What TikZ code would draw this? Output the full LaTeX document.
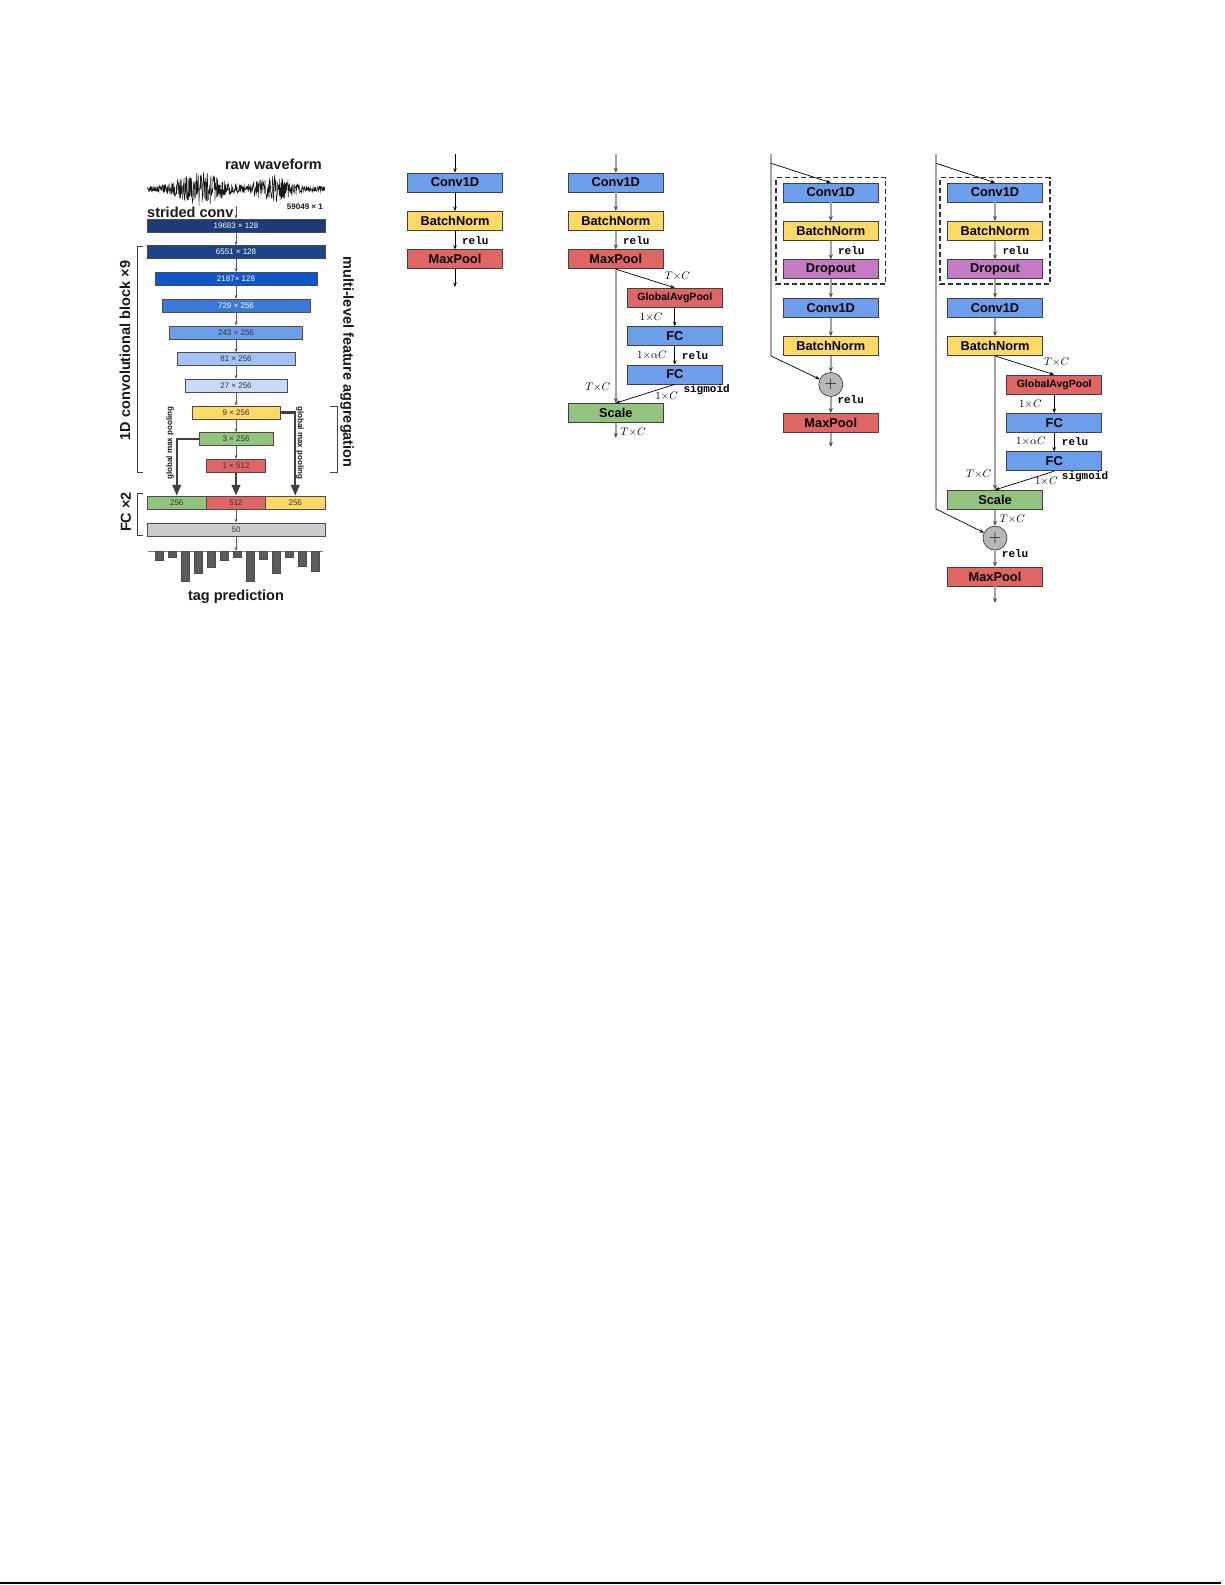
\documentclass[tikz,border=0pt]{standalone}
\usepackage{fontspec}
\setmainfont{Liberation Sans}
\setmonofont{Liberation Mono}
\usepackage{tikz}
\usetikzlibrary{shapes,arrows.meta,positioning,fit}

\definecolor{navyA}{HTML}{1B3C74}
\definecolor{navyB}{HTML}{1C4587}
\definecolor{blueA}{HTML}{1155CC}
\definecolor{blueB}{HTML}{3C78D8}
\definecolor{blueC}{HTML}{6D9EEB}
\definecolor{blueD}{HTML}{A4C2F4}
\definecolor{blueE}{HTML}{C9DAF8}
\definecolor{yelA}{HTML}{FFD966}
\definecolor{grnA}{HTML}{93C47D}
\definecolor{redA}{HTML}{E06666}
\definecolor{grayA}{HTML}{CCCCCC}
\definecolor{violetA}{HTML}{C47BC4}
\definecolor{plusgray}{HTML}{B7B7B7}
\definecolor{pathgray}{HTML}{A3A3A3}
\definecolor{bargray}{HTML}{5B5B5B}

\newcommand\fntbig{\fontsize{14.5}{16}\selectfont\bfseries}
\newcommand\fntlayer{\fontsize{12.8}{14}\selectfont\bfseries}
\newcommand\fntgap{\fontsize{10.5}{12}\selectfont\bfseries}
\newcommand\fntop{\fontsize{11}{12}\selectfont\ttfamily\bfseries}
\newcommand\fntdim{\fontsize{10.5}{12}\selectfont}
\newcommand\fntfeat{\fontsize{8}{9}\selectfont}
\newcommand\fntsmall{\fontsize{8}{9}\selectfont\bfseries}

\tikzset{layer/.style={draw=black!75, line width=0.7pt, minimum width=95pt,
    minimum height=19pt, inner sep=0pt, font=\fntlayer},
  feat/.style={draw=black!70, line width=0.5pt, minimum height=13pt,
    inner sep=0pt, font=\fntfeat, text=black!80},
  plus/.style={circle, draw=black!75, line width=0.7pt, fill=plusgray,
    minimum size=24pt, inner sep=0pt, font=\fontsize{17}{17}\selectfont},
  dashbox/.style={draw=black!80, line width=1.4pt, dash pattern=on 5pt off 3pt,
    inner xsep=7pt, inner ysep=5pt},
  lbl/.style={inner sep=0pt, text=black!90},
  oplbl/.style={inner sep=0pt, font=\fntop, anchor=west},
  dimlbl/.style={inner sep=0pt, font=\fntdim},
  arr/.style={draw=black, line width=0.7pt, -{Stealth[length=4.5pt,width=3.5pt]}},
  mainarr/.style={draw=pathgray, line width=1.6pt,
    -{Stealth[length=5pt,width=4pt,color=black!70]}},
  featarr/.style={draw=black!65, line width=0.6pt, -{Stealth[length=4pt,width=3pt]}},
  fatarr/.style={draw=black!75, line width=2.4pt, -{Triangle[length=11pt,width=8.5pt]}},
  brace/.style={draw=black!75, line width=0.8pt}
}

\begin{document}
\begin{tikzpicture}[x=1pt, y=-1pt, node distance=38.4pt, on grid]
\useasboundingbox (0,0) rectangle (1225,1585);

% sample-level network
\node[lbl, font=\fntbig, anchor=east] (raw) at (322,164.2) {raw waveform};
\pgfmathsetseed{11}
\draw[line width=0.5pt, black!90] plot[domain=147:325, samples=640]
  (\x,{189+(2.5+15*exp(-(\x-200)*(\x-200)/600)+11*exp(-(\x-274)*(\x-274)/420))*rand});
\node[lbl, font=\fntsmall, anchor=east] (insize) at (323,206.7) {59049 × 1};
\node[lbl, font=\fntbig, anchor=west] (strided) at (147,212.3) {strided conv};
\coordinate (wave) at (236,206);

\foreach \lab/\w/\col/\tc [count=\i] in {19683 × 128/178/navyA/white,
    6551 × 128/178/navyB/white, 2187× 128/162/blueA/white,
    729 × 256/148/blueB/white, 243 × 256/133/blueC/black!80,
    81 × 256/118/blueD/black!80, 27 × 256/102/blueE/black!80,
    9 × 256/88/yelA/black!80, 3 × 256/74/grnA/black!80,
    1 × 512/59/redA/black!80}
  \node[feat, minimum width=\w pt, fill=\col, text=\tc] (f\i) at (236,{225.5+26.7*(\i-1)}) {\lab};

\draw[featarr] (wave) -- (f1);
\foreach \i [remember=\i as \k (initially 1)] in {2,...,10}
  \draw[featarr] (f\k) -- (f\i);

\node[feat, minimum width=59pt, fill=redA] (cat_r) at (236,502.5) {512};
\node[feat, minimum width=59.5pt, fill=grnA] (cat_g) [left=59.25pt of cat_r] {256};
\node[feat, minimum width=59.5pt, fill=yelA] (cat_y) [right=59.25pt of cat_r] {256};
\node[feat, minimum width=178pt, fill=grayA] (fc50) at (236,529.5) {50};

\draw[fatarr] (f9.west) -| (cat_g.north);
\draw[fatarr] (f8.east) -| (cat_y.north);
\draw[fatarr] (f10) -- (cat_r);
\node[lbl, font=\fntsmall, rotate=90] (gmp_l) at (170,443) {global max pooling};
\node[lbl, font=\fntsmall, rotate=-90] (gmp_r) at (300,443) {global max pooling};

\coordinate (bars) at (236,551);
\draw[featarr] (cat_r) -- (fc50);
\draw[featarr] (fc50) -- (bars);
\draw[black!50, line width=0.6pt] (148,551) -- (323,551);
\foreach \bx/\by in {155/560, 168/557, 181/581, 194/573, 207/567, 220/560, 233/557,
    246/581, 259/559, 272/573, 285/557, 298/566, 311/571}
  \draw[draw=black!70, fill=bargray, line width=0.4pt] (\bx,551) rectangle (\bx+8.5,\by);
\node[lbl, font=\fntbig, anchor=base] (tag) at (236,600) {tag prediction};

\draw[brace] (143,246) -- (137,246) -- (137,472) -- (143,472);
\node[lbl, font=\fntbig, rotate=90] (convlbl) at (125,350.5) {1D convolutional block ×9};
\draw[brace] (330,406) -- (337,406) -- (337,472) -- (330,472);
\node[lbl, font=\fntbig, rotate=-90] (agglbl) at (347,362) {multi-level feature aggregation};
\draw[brace] (143,493) -- (137,493) -- (137,535) -- (143,535);
\node[lbl, font=\fntbig, rotate=90] (fclbl) at (126,512) {FC ×2};

% basic block
\node[layer, fill=blueC] (conv_b) at (455,182.5) {Conv1D};
\node[layer, fill=yelA]  (bn_b) [below=of conv_b] {BatchNorm};
\node[layer, fill=redA]  (pool_b) [below=of bn_b] {MaxPool};
\coordinate (in_b) at (455,154);
\coordinate (out_b) at (455,287);
\draw[arr] (in_b) -- (conv_b);
\draw[arr] (conv_b) -- (bn_b);
\draw[arr] (bn_b) -- node[oplbl, right=6.7pt] (relu_b) {relu} (pool_b);
\draw[arr] (pool_b) -- (out_b);

% SE block
\node[layer, fill=blueC] (conv_c) at (615.8,182.5) {Conv1D};
\node[layer, fill=yelA]  (bn_c) [below=of conv_c] {BatchNorm};
\node[layer, fill=redA]  (pool_c) [below=of bn_c] {MaxPool};
\node[layer, fill=redA, font=\fntgap] (gap_c) [below right=38.4pt and 59pt of pool_c] {GlobalAvgPool};
\node[layer, fill=blueC] (fc1_c) [below=of gap_c] {FC};
\node[layer, fill=blueC] (fc2_c) [below=of fc1_c] {FC};
\node[layer, fill=grnA]  (scale_c) [below left=38.4pt and 59pt of fc2_c] {Scale};
\coordinate (in_c) at (615.8,154);
\coordinate (out_c) at (615.8,438);
\draw[mainarr] (in_c) -- (conv_c);
\draw[mainarr] (conv_c) -- (bn_c);
\draw[mainarr] (bn_c) -- node[oplbl, right=6.5pt] (relu1_c) {relu} (pool_c);
\draw[mainarr] (pool_c) -- (scale_c);
\draw[mainarr] (scale_c) -- (out_c);
\draw[arr] (pool_c.south) -- (gap_c.north);
\draw[arr] (gap_c) -- (fc1_c);
\draw[arr] (fc1_c) -- (fc2_c);
\draw[arr] (fc2_c.south) -- (scale_c.north);
\node[dimlbl] (tc1_c) at (677.5,276.7) {$T{\times}C$};
\node[dimlbl] (c1_c) at (651.2,317) {$1{\times}C$};
\node[dimlbl] (ac_c) at (652,355) {$1{\times}\alpha C$};
\node[oplbl] (relu2_c) at (681.7,356) {relu};
\node[oplbl] (sig_c) at (683.3,390) {sigmoid};
\node[dimlbl] (c2_c) at (666.7,396) {$1{\times}C$};
\node[dimlbl] (tc2_c) at (597.8,387) {$T{\times}C$};
\node[dimlbl] (tc3_c) at (633.2,432) {$T{\times}C$};

% residual block
\node[layer, fill=blueC]   (conv1_d) at (830.8,192.5) {Conv1D};
\node[layer, fill=yelA]    (bn1_d) [below=of conv1_d] {BatchNorm};
\node[layer, fill=violetA] (drop_d) [below=of bn1_d] {Dropout};
\node[layer, fill=blueC]   (conv2_d) [below=of drop_d] {Conv1D};
\node[layer, fill=yelA]    (bn2_d) [below=of conv2_d] {BatchNorm};
\node[plus]                (add_d) [below=of bn2_d] {$+$};
\node[layer, fill=redA]    (pool_d) [below=of add_d] {MaxPool};
\node[dashbox, fit=(conv1_d)(drop_d)] (blk_d) {};
\coordinate (in_d) at (771,154);
\coordinate (br_d) at (771,163.3);
\coordinate (bend_d) at (771,356);
\coordinate (out_d) at (830.8,447);
\draw[arr] (in_d) -- (bend_d) -- (add_d);
\draw[arr] (br_d) -- (conv1_d.north);
\draw[mainarr] (conv1_d) -- (bn1_d);
\draw[mainarr] (bn1_d) -- node[oplbl, right=6.5pt] (relu1_d) {relu} (drop_d);
\draw[mainarr] (drop_d) -- (conv2_d);
\draw[mainarr] (conv2_d) -- (bn2_d);
\draw[mainarr] (bn2_d) -- (add_d);
\draw[mainarr] (add_d) -- (pool_d);
\draw[mainarr] (pool_d) -- (out_d);
\node[oplbl] (relu2_d) at (837.3,400) {relu};

% residual SE block
\node[layer, fill=blueC]   (conv1_e) at (995,192.5) {Conv1D};
\node[layer, fill=yelA]    (bn1_e) [below=of conv1_e] {BatchNorm};
\node[layer, fill=violetA] (drop_e) [below=of bn1_e] {Dropout};
\node[layer, fill=blueC]   (conv2_e) [below=of drop_e] {Conv1D};
\node[layer, fill=yelA]    (bn2_e) [below=of conv2_e] {BatchNorm};
\node[layer, fill=redA, font=\fntgap] (gap_e) [below right=38.4pt and 59.2pt of bn2_e] {GlobalAvgPool};
\node[layer, fill=blueC]   (fc1_e) [below=of gap_e] {FC};
\node[layer, fill=blueC]   (fc2_e) [below=of fc1_e] {FC};
\node[layer, fill=grnA]    (scale_e) [below left=38.4pt and 59.2pt of fc2_e] {Scale};
\node[plus]                (add_e) [below=of scale_e] {$+$};
\node[layer, fill=redA]    (pool_e) [below=of add_e] {MaxPool};
\node[dashbox, fit=(conv1_e)(drop_e)] (blk_e) {};
\coordinate (in_e) at (936,154);
\coordinate (br_e) at (936,163.3);
\coordinate (bend_e) at (936,509);
\coordinate (out_e) at (995,603);
\draw[arr] (in_e) -- (bend_e) -- (add_e);
\draw[arr] (br_e) -- (conv1_e.north);
\draw[mainarr] (conv1_e) -- (bn1_e);
\draw[mainarr] (bn1_e) -- node[oplbl, right=6.7pt] (relu1_e) {relu} (drop_e);
\draw[mainarr] (drop_e) -- (conv2_e);
\draw[mainarr] (conv2_e) -- (bn2_e);
\draw[mainarr] (bn2_e) -- (scale_e);
\draw[mainarr] (scale_e) -- (add_e);
\draw[mainarr] (add_e) -- (pool_e);
\draw[mainarr] (pool_e) -- (out_e);
\draw[arr] (bn2_e.south) -- (gap_e.north);
\draw[arr] (gap_e) -- (fc1_e);
\draw[arr] (fc1_e) -- (fc2_e);
\draw[arr] (fc2_e.south) -- (scale_e.north);
\node[dimlbl] (tc1_e) at (1056.7,362.3) {$T{\times}C$};
\node[dimlbl] (c1_e) at (1030.3,404) {$1{\times}C$};
\node[dimlbl] (ac_e) at (1031,441.7) {$1{\times}\alpha C$};
\node[oplbl] (relu2_e) at (1061.7,441.7) {relu};
\node[oplbl] (sig_e) at (1061.7,476.7) {sigmoid};
\node[dimlbl] (c2_e) at (1046.3,481.7) {$1{\times}C$};
\node[dimlbl] (tc2_e) at (978.7,474) {$T{\times}C$};
\node[dimlbl] (tc3_e) at (1012.5,519.3) {$T{\times}C$};
\node[oplbl] (relu3_e) at (1001.7,554) {relu};

% page rule
\draw[line width=1.5pt] (0,1583) -- (1221,1583);
\end{tikzpicture}
\end{document}
